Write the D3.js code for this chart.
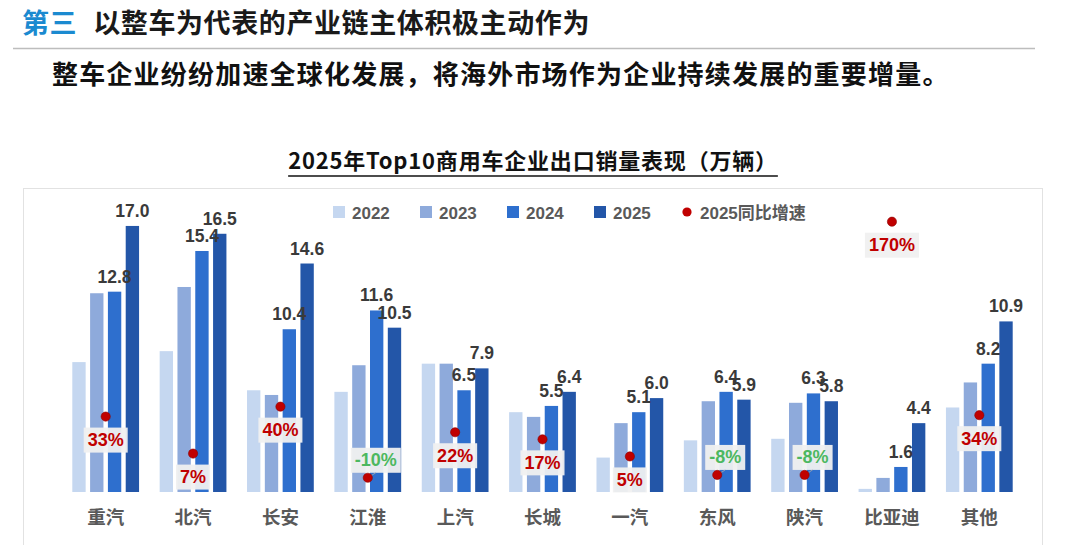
<!DOCTYPE html>
<html>
<head>
<meta charset="utf-8">
<script src="https://cdn.jsdelivr.net/npm/d3@7"></script>
<style>
  body { margin: 0; background: #fff; }
  svg { display: block; }
</style>
</head>
<body>
<svg width="1065" height="545"></svg>
<script>
// data (万辆, growth in %)
var categories = ['重汽', '北汽', '长安', '江淮', '上汽', '长城', '一汽', '东风', '陕汽', '比亚迪', '其他'];
var years = ['2022', '2023', '2024', '2025'];
var v2022 = [8.3, 9.0, 6.5, 6.4, 8.2, 5.1, 2.2, 3.3, 3.4, 0.2, 5.4];
var v2023 = [12.7, 13.1, 6.2, 8.1, 8.2, 4.8, 4.4, 5.8, 5.7, 0.9, 7.0];
var v2024 = [12.8, 15.4, 10.4, 11.6, 6.5, 5.5, 5.1, 6.4, 6.3, 1.6, 8.2];
var v2025 = [17.0, 16.5, 14.6, 10.5, 7.9, 6.4, 6.0, 5.9, 5.8, 4.4, 10.9];
var growth = [33, 7, 40, -10, 22, 17, 5, -8, -8, 170, 34];
var growthName = '2025同比增速';

var series = [v2022, v2023, v2024, v2025];
var colors = ['#c5d7f0', '#8eaadb', '#2e6fce', '#2356a8'];
var font = '"Liberation Sans", "Noto Sans CJK SC", sans-serif';
var cjk = '"Noto Sans CJK SC", sans-serif';

var svg = d3.select('svg');

// header
var h = svg.append('text').attr('x', 22).attr('y', 33).attr('font-family', cjk)
  .attr('font-weight', 700).attr('font-size', 27).attr('letter-spacing', 0.6);
h.append('tspan').attr('fill', '#1b8ad0').text('第三');
h.append('tspan').attr('fill', '#1a1a1a').attr('dx', 16).text('以整车为代表的产业链主体积极主动作为');
svg.append('line').attr('x1', 13).attr('x2', 1035).attr('y1', 48.5).attr('y2', 48.5)
  .attr('stroke', '#bdbdbd').attr('stroke-width', 1.5);
svg.append('text').attr('x', 52).attr('y', 84).attr('font-family', cjk)
  .attr('font-weight', 700).attr('font-size', 26).attr('letter-spacing', 1.2).attr('fill', '#111')
  .text('整车企业纷纷加速全球化发展，将海外市场作为企业持续发展的重要增量。');

// chart title
var t = svg.append('text').attr('x', 533).attr('y', 169).attr('text-anchor', 'middle')
  .attr('font-family', cjk).attr('font-weight', 700).attr('font-size', 22).attr('letter-spacing', 0.8)
  .attr('fill', '#111')
  .text('2025年Top10商用车企业出口销量表现（万辆）');
var tw = t.node().getComputedTextLength();
svg.append('line').attr('x1', 533 - tw / 2).attr('x2', 533 + tw / 2).attr('y1', 176).attr('y2', 176)
  .attr('stroke', '#111').attr('stroke-width', 1.5);

// chart frame
svg.append('rect').attr('x', 23.5).attr('y', 188.5).attr('width', 1019).attr('height', 370)
  .attr('fill', 'none').attr('stroke', '#e2e2e2');

// scales
var x = d3.scaleBand().domain(categories).range([62, 1023]);
var xs = d3.scaleBand().domain(years).range([10.3, x.bandwidth() - 10.3]).paddingInner(0.25);
var y = d3.scaleLinear().domain([0, 20]).range([492, 179]);
var y2 = d3.scaleLinear().domain([-20, 200]).range([492, 179]);

// bars
var groups = svg.append('g').selectAll('g').data(categories).join('g')
  .attr('transform', function (d) { return 'translate(' + x(d) + ',0)'; });
groups.selectAll('rect').data(function (d, i) {
  return years.map(function (yr, k) { return { yr: yr, k: k, v: series[k][i] }; });
}).join('rect')
  .attr('x', function (d) { return xs(d.yr); })
  .attr('width', xs.bandwidth())
  .attr('y', function (d) { return y(d.v); })
  .attr('height', function (d) { return y(0) - y(d.v); })
  .attr('fill', function (d) { return colors[d.k]; });

// value labels for 2024 and 2025
groups.selectAll('text.val').data(function (d, i) {
  return [2, 3].map(function (k) { return { yr: years[k], v: series[k][i] }; });
}).join('text').attr('class', 'val')
  .attr('x', function (d) { return xs(d.yr) + xs.bandwidth() / 2; })
  .attr('y', function (d) { return y(d.v) - 9; })
  .attr('text-anchor', 'middle').attr('font-family', font).attr('font-weight', 700)
  .attr('font-size', 17.5).attr('fill', '#3a3a3a')
  .text(function (d) { return d.v.toFixed(1); });

// category labels
svg.append('g').selectAll('text').data(categories).join('text')
  .attr('x', function (d) { return x(d) + x.bandwidth() / 2; })
  .attr('y', 524).attr('text-anchor', 'middle').attr('font-family', cjk)
  .attr('font-weight', 700).attr('font-size', 18.5).attr('fill', '#595959')
  .text(function (d) { return d; });

// growth dots and labels
var gl = svg.append('g').selectAll('g').data(categories).join('g')
  .attr('transform', function (d, i) {
    return 'translate(' + (x(d) + x.bandwidth() / 2) + ',' + y2(growth[i]) + ')';
  });
gl.each(function (d, i) {
  var g = d3.select(this);
  var neg = growth[i] < 0;
  var lx = neg ? 8 : 0, ly = neg ? -18 : 23;
  var lab = g.append('text').attr('x', lx).attr('y', ly + 6.5).attr('text-anchor', 'middle')
    .attr('font-family', font).attr('font-weight', 700).attr('font-size', 18)
    .attr('fill', neg ? '#4cb860' : '#c00000').text(growth[i] + '%');
  var w = lab.node().getComputedTextLength() + 8;
  g.insert('rect', 'text').attr('x', lx - w / 2).attr('y', ly - 12).attr('width', w).attr('height', 25)
    .attr('fill', '#f0f0f0').attr('opacity', 0.95);
  if (neg) {
    g.append('line').attr('x1', 0).attr('y1', 0).attr('x2', lx).attr('y2', ly + 13)
      .attr('stroke', '#aaa').attr('stroke-width', 0.8);
  }
  g.append('circle').attr('r', 4.6).attr('fill', '#c00000').attr('stroke', '#8a0000').attr('stroke-width', 0.6);
});

// legend
var leg = svg.append('g');
years.forEach(function (yr, k) {
  var lx = 333 + k * 87;
  leg.append('rect').attr('x', lx).attr('y', 206).attr('width', 12).attr('height', 12).attr('fill', colors[k]);
  leg.append('text').attr('x', lx + 19).attr('y', 218.5).attr('font-family', font).attr('font-weight', 700)
    .attr('font-size', 17).attr('fill', '#595959').text(yr);
});
leg.append('circle').attr('cx', 687).attr('cy', 212).attr('r', 4.6).attr('fill', '#c00000');
leg.append('text').attr('x', 700).attr('y', 218.5).attr('font-family', font).attr('font-weight', 700)
  .attr('font-size', 17).attr('fill', '#595959').text(growthName);
</script>
</body>
</html>
